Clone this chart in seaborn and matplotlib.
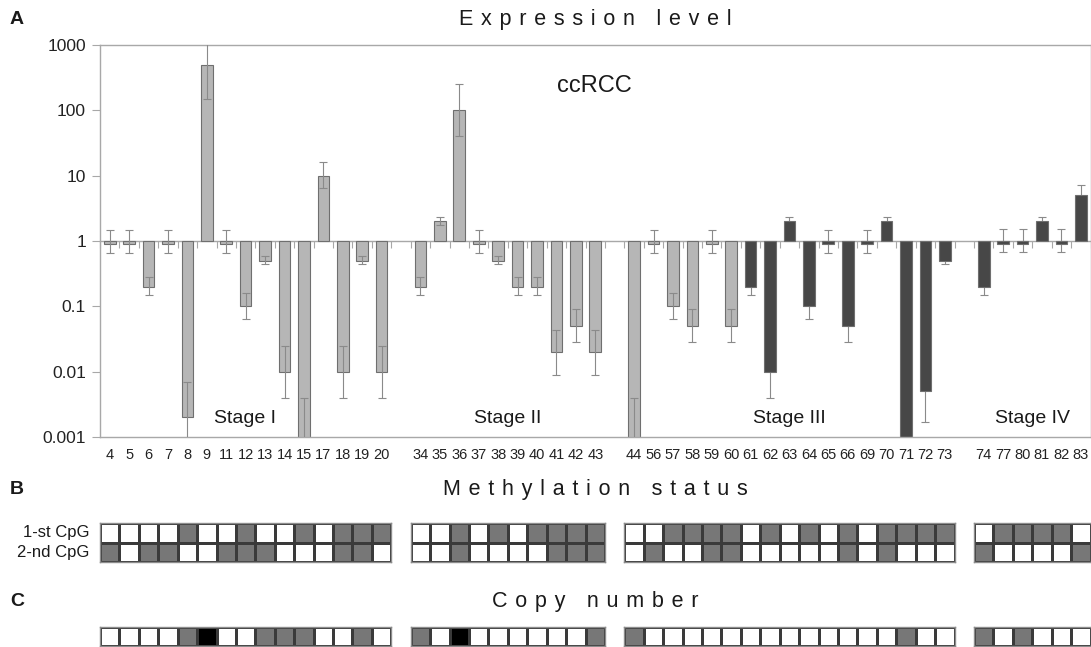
import numpy as np
import pandas as pd
import matplotlib.pyplot as plt
from matplotlib.colors import ListedColormap
import seaborn as sns

sns.set_style('white')
plt.rcParams['font.family'] = ['Liberation Sans', 'DejaVu Sans']

###########################################################################################
######                                    Data                                       ######
###########################################################################################
stage_names = ['Stage I', 'Stage II', 'Stage III', 'Stage IV']
stage_samples = [
    ['4', '5', '6', '7', '8', '9', '11', '12', '13', '14', '15', '17', '18', '19', '20'],
    ['34', '35', '36', '37', '38', '39', '40', '41', '42', '43'],
    ['44', '56', '57', '58', '59', '60', '61', '62', '63', '64', '65', '66', '69', '70', '71', '72', '73'],
    ['74', '77', '80', '81', '82', '83'],
]

# relative expression (bar end), error bar low / high
expr = [0.9, 0.9, 0.2, 0.9, 0.002, 500, 0.9, 0.1, 0.5, 0.01, 0.0009, 10, 0.01, 0.5, 0.01,
        0.2, 2.0, 100, 0.9, 0.5, 0.2, 0.2, 0.02, 0.05, 0.02,
        0.0009, 0.9, 0.1, 0.05, 0.9, 0.05, 0.2, 0.01, 2.0, 0.1, 0.9, 0.05, 0.9, 2.0, 0.0009, 0.005, 0.5,
        0.2, 0.9, 0.9, 2.0, 0.9, 5.0]
err_lo = [0.66, 0.66, 0.15, 0.66, 0.0005, 148, 0.66, 0.065, 0.44, 0.004, 0.0004, 6.4, 0.004, 0.44, 0.004,
          0.15, 1.76, 40, 0.66, 0.44, 0.15, 0.15, 0.009, 0.028, 0.009,
          0.0004, 0.66, 0.063, 0.028, 0.66, 0.028, 0.148, 0.004, 1.76, 0.063, 0.66, 0.028, 0.66, 1.76, 0.0004, 0.0017, 0.44,
          0.148, 0.67, 0.67, 1.76, 0.67, 3.5]
err_hi = [1.48, 1.48, 0.28, 1.48, 0.007, 1300, 1.48, 0.16, 0.58, 0.025, 0.004, 16, 0.025, 0.58, 0.025,
          0.28, 2.3, 257, 1.48, 0.58, 0.28, 0.28, 0.044, 0.092, 0.044,
          0.004, 1.48, 0.16, 0.092, 1.48, 0.092, 0.28, 0.025, 2.3, 0.16, 1.48, 0.092, 1.48, 2.3, 0.004, 0.012, 0.58,
          0.28, 1.5, 1.5, 2.3, 1.5, 7.1]
dark_from = '61'   # samples from 61 on are drawn dark

# methylation (1 = methylated) and copy number (0 normal, 1 grey, 2 black)
meth_1st = [0, 0, 0, 0, 1, 0, 0, 1, 0, 0, 1, 0, 1, 1, 1,
            0, 0, 1, 0, 1, 0, 1, 1, 1, 1,
            0, 0, 1, 1, 1, 1, 0, 1, 0, 1, 0, 1, 0, 1, 1, 1, 1,
            0, 1, 1, 1, 1, 0]
meth_2nd = [1, 0, 1, 1, 0, 0, 1, 1, 1, 0, 0, 0, 1, 1, 0,
            0, 0, 1, 0, 0, 0, 0, 1, 1, 1,
            0, 1, 0, 0, 1, 1, 0, 0, 0, 0, 0, 1, 0, 1, 0, 0, 0,
            1, 0, 0, 0, 0, 1]
copy_num = [0, 0, 0, 0, 1, 2, 0, 0, 1, 1, 1, 0, 0, 1, 0,
            1, 0, 2, 0, 0, 0, 0, 0, 0, 1,
            1, 0, 0, 0, 0, 0, 0, 0, 0, 0, 0, 0, 0, 0, 1, 0, 0,
            1, 0, 1, 0, 0, 0]

ytick_labels = ['0.001', '0.01', '0.1', '1', '10', '100', '1000']

###########################################################################################
######                                 Build tables                                  ######
###########################################################################################
samples = [s for grp in stage_samples for s in grp]
stage_of = [name for name, grp in zip(stage_names, stage_samples) for _ in grp]

# category order with one empty slot between stages
order = []
for i, grp in enumerate(stage_samples):
    order += grp
    if i < len(stage_samples) - 1:
        order.append(' ' * (i + 1))
n_slot = len(order)

first_dark = samples.index(dark_from)
df = pd.DataFrame({
    'sample': samples,
    'stage': stage_of,
    'log_expr': np.log10(expr),
    'lo': np.log10(err_lo),
    'hi': np.log10(err_hi),
    'meth_1st': meth_1st,
    'meth_2nd': meth_2nd,
    'copy_num': copy_num,
    'group': ['light' if i < first_dark else 'dark' for i in range(len(samples))],
})
df['pos'] = [order.index(s) for s in df['sample']]

###########################################################################################
######                                    Plot                                       ######
###########################################################################################
W, H = 1091, 647
fig = plt.figure(figsize=(W / 100, H / 100), dpi=100)
left, width = 100 / W, 990.5 / W
slot_w = width / n_slot
spine_c = '#a8a8a8'
light_c, dark_c = '#b6b6b6', '#474747'

ax = fig.add_axes([left, 1 - 437 / H, width, 392 / H])
sns.barplot(data=df, x='sample', y='log_expr', hue='group', order=order,
            hue_order=['light', 'dark'], palette={'light': light_c, 'dark': dark_c},
            dodge=False, width=0.6, errorbar=None, legend=False, saturation=1,
            linewidth=0.8, edgecolor='#6f6f6f', ax=ax)

for grp, z in [('light', 3), ('dark', 0.5)]:
    sub = df[df['group'] == grp]
    ax.errorbar(sub['pos'], sub['log_expr'],
                yerr=[sub['log_expr'] - sub['lo'], sub['hi'] - sub['log_expr']],
                fmt='none', ecolor='#8a8a8a', elinewidth=0.8, capsize=3, capthick=0.8, zorder=z)

ax.set_xlim(-0.5, n_slot - 0.5)
ax.set_ylim(-3, 3)
ax.set_yticks(range(-3, 4))
ax.set_yticklabels(ytick_labels)
ax.set_xticks(range(n_slot))
ax.set_xticklabels(order)
ax.set_xlabel('')
ax.set_ylabel('')
ax.tick_params(axis='x', length=0, pad=8, labelsize=10.5, colors='#222222')
ax.tick_params(axis='y', left=True, length=6, width=0.8, color=spine_c, pad=4,
               labelsize=12.5, labelcolor='#222222')
for sp in ax.spines.values():
    sp.set_visible(True)
    sp.set_color(spine_c)
    sp.set_linewidth(1)

# baseline at 1 with small ticks between samples
sec = ax.secondary_xaxis(0.5)
sec.set_alignment('bottom')
sec.set_xticks(np.arange(-0.5, n_slot, 1))
sec.set_xticklabels([])
sec.tick_params(length=5, width=0.8, color=spine_c)
sec.spines['bottom'].set_color(spine_c)
sec.spines['bottom'].set_linewidth(1)

stage_pos = [6.97, 20.5, 35.0, 47.5]
for name, xp in zip(stage_names, stage_pos):
    ax.text(xp, -2.715, name, ha='center', va='center', fontsize=14, color='#1a1a1a')
ax.text(24.95, 2.38, 'ccRCC', ha='center', va='center', fontsize=17, color='#1a1a1a')

# methylation and copy number: one heat-map block per stage, aligned with the bars
meth_cmap = ListedColormap(['white', '#777777'])
copy_cmap = ListedColormap(['white', '#777777', '#000000'])
for k, name in enumerate(stage_names):
    sub = df[df['stage'] == name]
    x0 = left + sub['pos'].min() * slot_w
    w = len(sub) * slot_w

    ax_m = fig.add_axes([x0, 1 - 562 / H, w, 39 / H])
    sns.heatmap(sub[['meth_1st', 'meth_2nd']].T.values, ax=ax_m, cmap=meth_cmap,
                vmin=0, vmax=1, cbar=False, linewidths=1, linecolor='#3a3a3a',
                xticklabels=False, yticklabels=False)
    if k == 0:
        for i, lab in enumerate(['1-st CpG', '2-nd CpG']):
            ax_m.text(-0.55, i + 0.5, lab, ha='right', va='center', fontsize=12, color='#1a1a1a')

    ax_c = fig.add_axes([x0, 1 - 646 / H, w, 19.5 / H])
    sns.heatmap(sub[['copy_num']].T.values, ax=ax_c, cmap=copy_cmap,
                vmin=0, vmax=2, cbar=False, linewidths=1, linecolor='#3a3a3a',
                xticklabels=False, yticklabels=False)

    for a in (ax_m, ax_c):
        for sp in a.spines.values():
            sp.set_visible(True)
            sp.set_color('#8c8c8c')
            sp.set_linewidth(1)


def spaced(s):
    return ' \u200a'.join(s).replace(' \u200a \u200a \u200a', '   ')


for txt, yp in [('Expression level', 19), ('Methylation status', 489), ('Copy number', 601)]:
    fig.text(595 / W, 1 - yp / H, spaced(txt), ha='center', va='center', fontsize=15.5, color='#1a1a1a')
for txt, yp in [('A', 19), ('B', 489), ('C', 601)]:
    fig.text(17 / W, 1 - yp / H, txt, ha='center', va='center', fontsize=14, weight='bold', color='#1a1a1a')

fig.savefig('out.png', dpi=100)
